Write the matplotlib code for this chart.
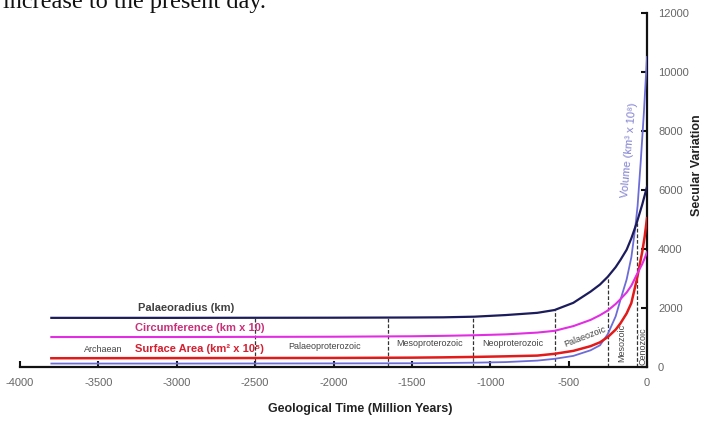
import matplotlib
matplotlib.use("Agg")
import matplotlib.pyplot as plt
import numpy as np

plt.rcParams['font.family'] = ['Liberation Sans', 'DejaVu Sans']
plt.rcParams['axes.unicode_minus'] = False

# ---- data ----
t_radius = [-3800, -3000, -2000, -1500, -1300, -1100, -900, -700, -590, -470, -360,
            -300, -250, -200, -170, -130, -100, -65, -30, -15, 0]
radius = [1650, 1650, 1655, 1662, 1668, 1690, 1745, 1820, 1915, 2160, 2540,
          2780, 3045, 3370, 3610, 3960, 4345, 4880, 5500, 5800, 6100]

t_circ = [-3800, -3000, -2000, -1500, -1300, -1100, -900, -700, -590, -470, -360,
          -300, -250, -200, -170, -130, -100, -65, -30, -15, 0]
circumference = [1000, 1000, 1010, 1025, 1040, 1060, 1090, 1150, 1210, 1370, 1580,
                 1740, 1900, 2120, 2280, 2510, 2740, 3120, 3480, 3670, 3880]

t_area = [-3800, -3000, -2000, -1500, -1300, -1100, -900, -700, -590, -470, -360,
          -300, -250, -200, -170, -130, -100, -65, -30, -15, 0]
surface_area = [280, 285, 290, 300, 310, 325, 345, 370, 430, 530, 690,
                820, 1000, 1250, 1460, 1800, 2150, 2950, 3900, 4400, 5030]

t_volume = [-3800, -3000, -2000, -1500, -1300, -1100, -900, -700, -590, -470, -360,
            -300, -250, -200, -170, -130, -100, -75, -60, -40, -20, 0]
volume = [100, 100, 105, 110, 118, 130, 150, 200, 260, 360, 550,
          720, 1100, 1700, 2250, 2950, 3700, 4700, 5450, 6950, 8600, 10500]

boundaries = [-2500, -1650, -1110, -590, -250, -65]

period_names = ["Archaean", "Palaeoproterozoic", "Mesoproterozoic", "Neoproterozoic",
                "Palaeozoic", "Mesozoic", "Cenozoic"]
period_t = [-3470, -2054, -1384, -853, -397, -158, -24]
period_v = [593, 695, 786, 786, 1010, 786, 695]
period_rot = [0, 0, 0, 0, 21, 90, 90]

x_ticks = [-4000, -3500, -3000, -2500, -2000, -1500, -1000, -500, 0]
y_ticks = [0, 2000, 4000, 6000, 8000, 10000, 12000]

# ---- figure ----
fig = plt.figure(figsize=(7.04, 4.23), dpi=100)
ax = fig.add_axes([20/704, 1 - 366.5/423, 627/704, (366.5 - 12.7)/423])
ax.set_xlim(-4000, 0)
ax.set_ylim(0, 12000)

c_navy = "#1c1c5c"
c_mag = "#e22ee2"
c_red = "#e21a1a"
c_blue = "#6c6cd8"

ax.plot(t_volume, volume, color=c_blue, lw=1.3, zorder=3)
ax.plot(t_area, surface_area, color=c_red, lw=1.8, zorder=4)
ax.plot(t_circ, circumference, color=c_mag, lw=1.5, zorder=4)
ax.plot(t_radius, radius, color=c_navy, lw=1.6, zorder=5)

for b in boundaries:
    top = np.interp(b, t_radius, radius)
    ax.plot([b, b], [0, top], color="#333333", lw=0.9, ls=(0, (3, 1.5)), zorder=2)

for name, tt, vv, rr in zip(period_names, period_t, period_v, period_rot):
    ax.text(tt, vv, name, fontsize=6.5, color="#444444", ha="center", va="center",
            rotation=rr, rotation_mode="anchor")

ax.text(-3247, 1973, "Palaeoradius (km)", fontsize=8, fontweight="bold",
        color="#404040", ha="left", va="center")
ax.text(-3266, 1295, "Circumference (km x 10)", fontsize=8, fontweight="bold",
        color="#c8307a", ha="left", va="center")
ax.text(-3266, 593, "Surface Area (km\u00b2 x 10\u2075)", fontsize=8, fontweight="bold",
        color="#d42030", ha="left", va="center")
ax.text(-115, 7339, "Volume (km\u00b3 x 10\u2078)", fontsize=8, color="#8080d0",
        ha="center", va="center", rotation=85, rotation_mode="anchor")

for s in ["left", "top"]:
    ax.spines[s].set_visible(False)
for s in ["right", "bottom"]:
    ax.spines[s].set_linewidth(1.6)
    ax.spines[s].set_color("#111111")

ax.yaxis.tick_right()
ax.set_xticks(x_ticks)
ax.set_xticklabels([str(v) for v in x_ticks])
ax.set_yticks(y_ticks)
ax.set_yticklabels([str(v) for v in y_ticks])
ax.tick_params(axis="both", direction="in", length=4, width=1.5, labelsize=8,
               labelcolor="#666666", color="#111111")
ax.tick_params(axis="x", pad=8)
ax.tick_params(axis="y", pad=8)

fig.text(360/704, 1 - 409/423, "Geological Time (Million Years)", fontsize=9,
         fontweight="bold", color="#222222", ha="center", va="center")
fig.text(691.5/704, 1 - 165/423, "Secular Variation", fontsize=9, fontweight="bold",
         color="#222222", ha="left", va="center", rotation=90)
fig.text(3/704, 1 - 8/423, "increase to the present day.", fontsize=17.5,
         family=["Liberation Serif", "DejaVu Serif"], color="#111111",
         ha="left", va="baseline")

fig.savefig("out.png", dpi=100)
